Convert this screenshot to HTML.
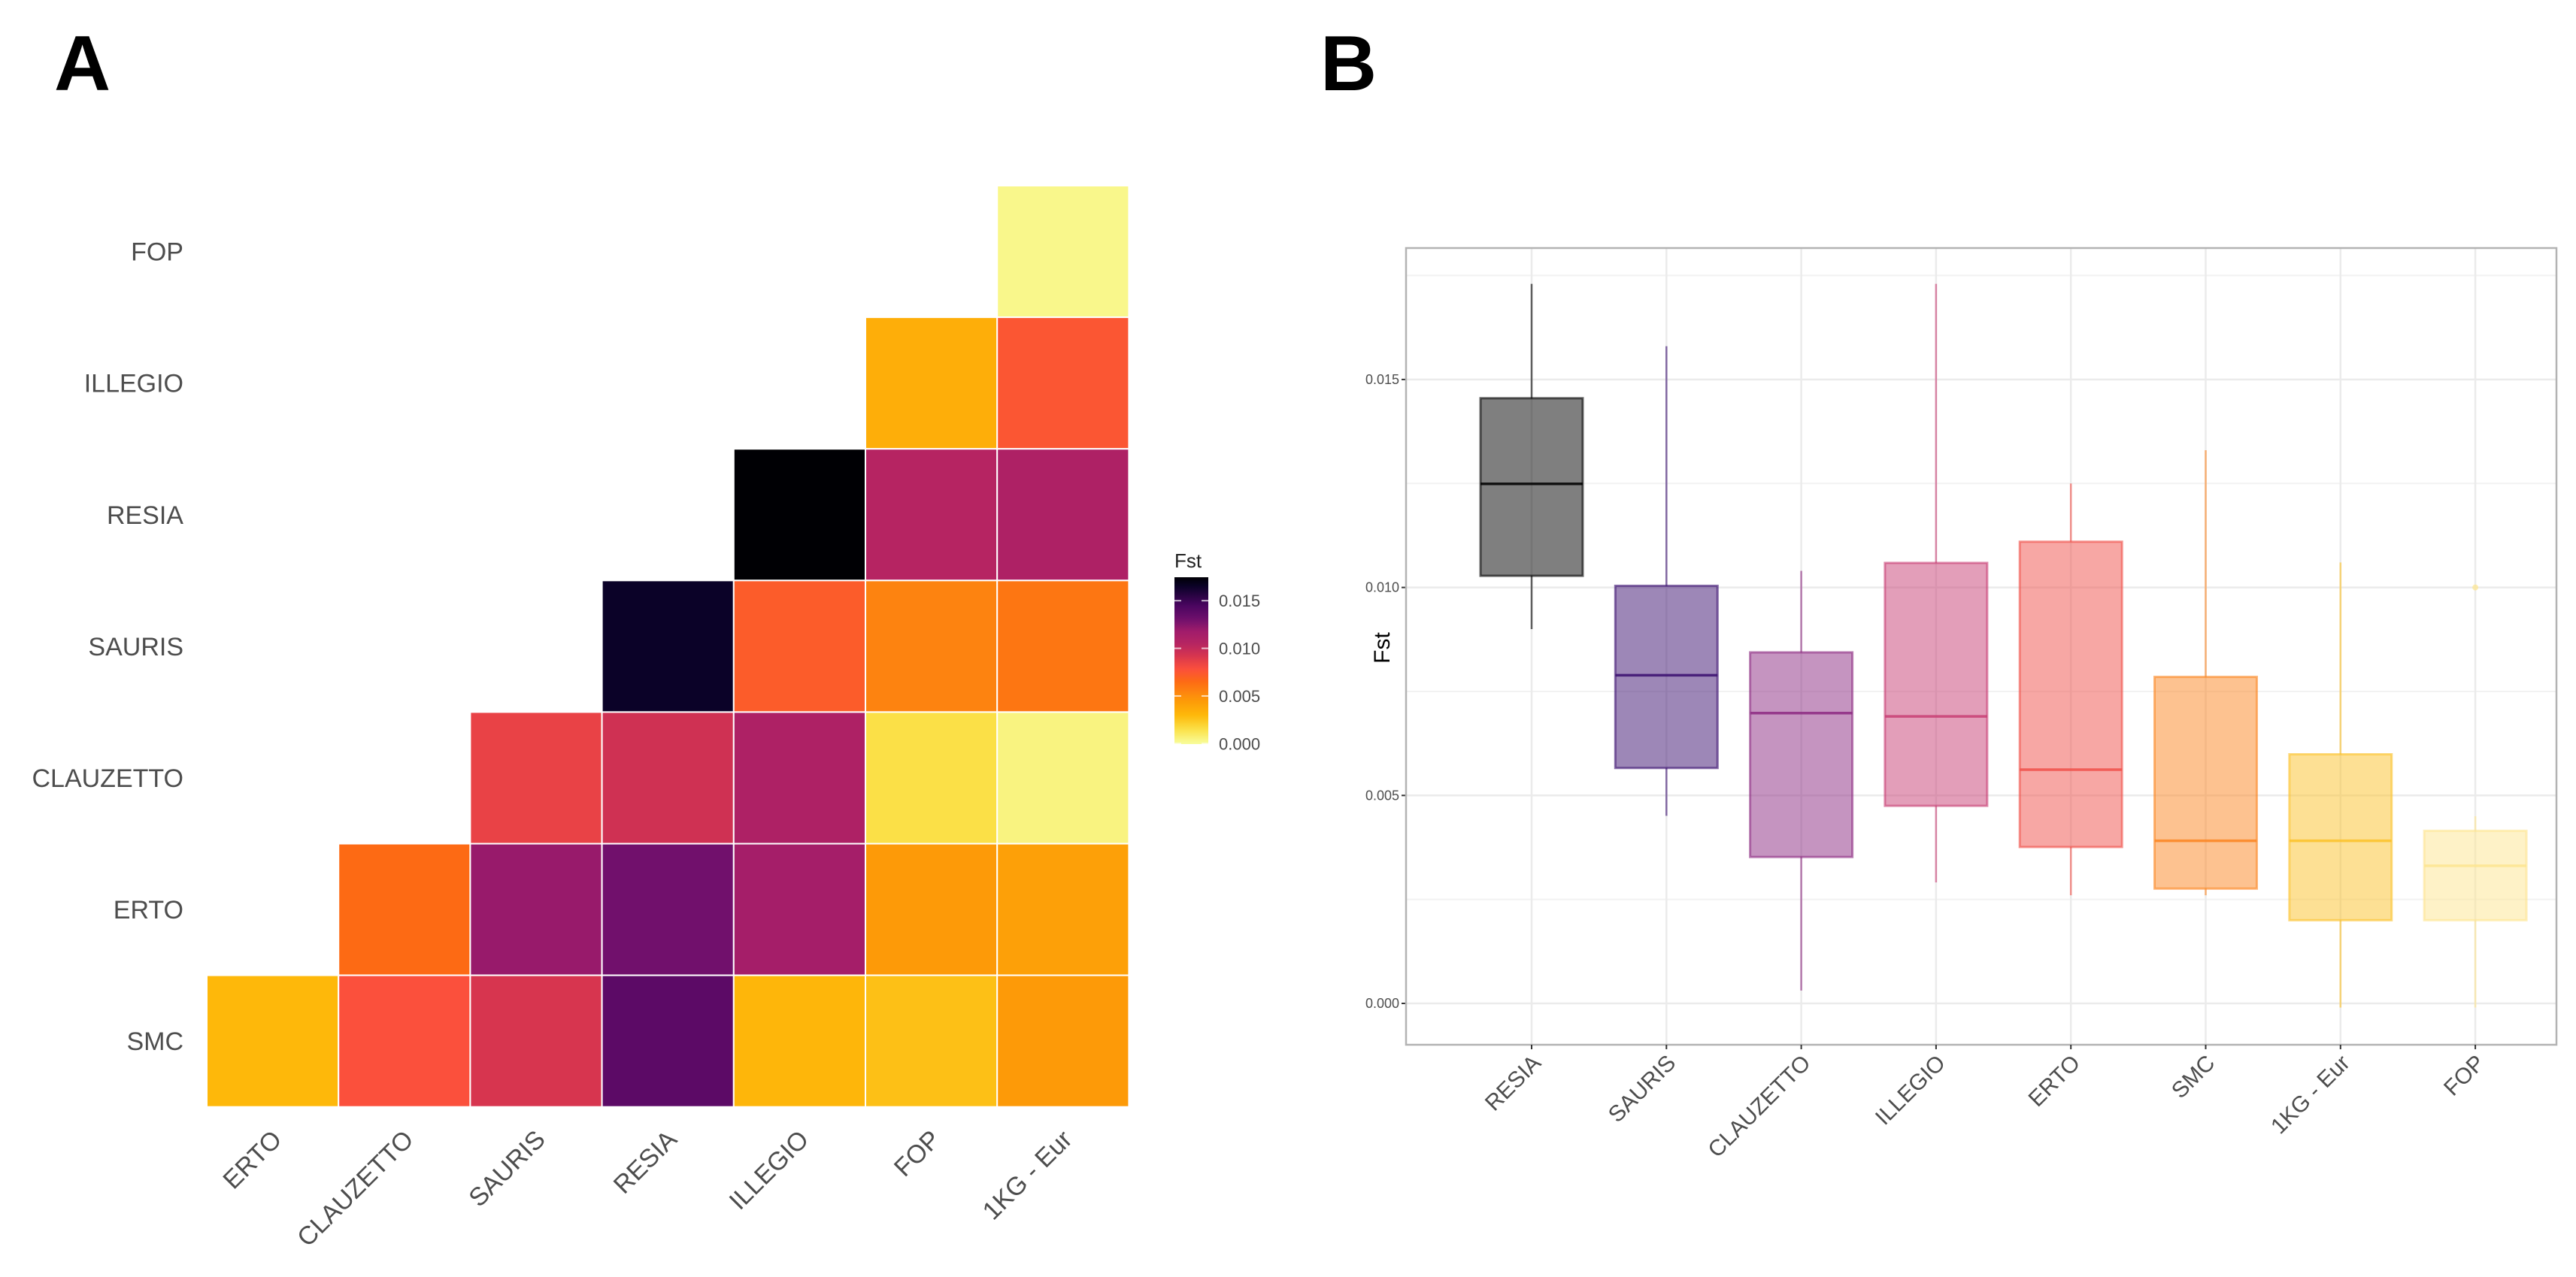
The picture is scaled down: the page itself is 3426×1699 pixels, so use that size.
<!DOCTYPE html>
<html><head><meta charset="utf-8"><style>
html,body{margin:0;padding:0;background:#fff;}
svg{display:block;font-family:"Liberation Sans",Arial,sans-serif;}
</style></head><body>
<svg id="fig" width="3426" height="1699" viewBox="0 0 3426 1699" xmlns="http://www.w3.org/2000/svg">
<rect x="0" y="0" width="3426" height="1699" fill="#fff"/>
<text x="72" y="120" font-size="104" font-weight="bold" fill="#000">A</text>
<text x="1756" y="120" font-size="104" font-weight="bold" fill="#000">B</text>
<g id="heat"></g>
<g id="legend"></g>
<g id="box"></g>
</svg>
<script>
// ---------- Panel A data ----------
const heatCols = ["ERTO","CLAUZETTO","SAURIS","RESIA","ILLEGIO","FOP","1KG - Eur"];
const heatRows = ["FOP","ILLEGIO","RESIA","SAURIS","CLAUZETTO","ERTO","SMC"];
const rowFOP = [0.0003];
const rowILLEGIO = [0.0035,0.0075];
const rowRESIA = [0.0175,0.0105,0.011];
const rowSAURIS = [0.0165,0.0072,0.0055,0.006];
const rowCLAUZETTO = [0.0085,0.0095,0.011,0.0015,0.0005];
const rowERTO = [0.0065,0.012,0.013,0.0115,0.0045,0.0042];
const rowSMC = [0.003,0.0078,0.0092,0.0138,0.0031,0.0027,0.0045];
const heatValues = [rowFOP,rowILLEGIO,rowRESIA,rowSAURIS,rowCLAUZETTO,rowERTO,rowSMC];
const legendTicks = [0,0.005,0.010,0.015];
const legendLabels = ["0.000","0.005","0.010","0.015"];

// ---------- Panel B data ----------
const boxCats = ["RESIA","SAURIS","CLAUZETTO","ILLEGIO","ERTO","SMC","1KG - Eur","FOP"];
const whiskerHigh = [0.0173,0.0158,0.0104,0.0173,0.0125,0.0133,0.0106,0.0045];
const q3Values = [0.01455,0.01004,0.00844,0.01059,0.0111,0.00785,0.00599,0.00415];
const medians = [0.01249,0.00789,0.00698,0.0069,0.00562,0.00391,0.00391,0.00331];
const q1Values = [0.01028,0.00566,0.00352,0.00475,0.00376,0.00276,0.002,0.002];
const whiskerLow = [0.009,0.00451,0.00031,0.00291,0.0026,0.0026,-0.0001,-0.0001];
const outlierCat = [7];
const outlierVal = [0.0100];
const yTicks = [0,0.005,0.010,0.015];
const yTickLabels = ["0.000","0.005","0.010","0.015"];
const boxColors = ["#000000","#3b0f70","#8c2981","#c83e73","#f0504a","#fb8522","#fcc22a","#fde58f"];

const NS="http://www.w3.org/2000/svg";
function mk(tag,attrs,parent){const e=document.createElementNS(NS,tag);for(const k in attrs)e.setAttribute(k,attrs[k]);parent.appendChild(e);return e;}

const stops=[[0,"#f8fd9c"],[0.0015,"#fbe047"],[0.003,"#feb80a"],[0.0045,"#fd9a08"],[0.0055,"#fd8310"],[0.0065,"#fd6a14"],[0.0078,"#fb503c"],[0.0092,"#d7354f"],[0.0105,"#b62462"],[0.0118,"#a01c6b"],[0.013,"#71106c"],[0.0145,"#4a0560"],[0.0165,"#0b0228"],[0.0175,"#000004"]];
function hx(c){return [parseInt(c.substr(1,2),16),parseInt(c.substr(3,2),16),parseInt(c.substr(5,2),16)];}
function colorOf(v){
  if(v<=stops[0][0])return stops[0][1];
  for(let i=1;i<stops.length;i++){if(v<=stops[i][0]){const a=hx(stops[i-1][1]),b=hx(stops[i][1]);const t=(v-stops[i-1][0])/(stops[i][0]-stops[i-1][0]);return "rgb("+a.map((x,j)=>Math.round(x+(b[j]-x)*t)).join(",")+")";}}
  return stops[stops.length-1][1];
}

// ---------- Panel A ----------
const heat=document.getElementById("heat");
const hx0=275,hy0=247,cw=175.2,ch=175.1;
const colX=i=>hx0+i*cw, rowY=i=>hy0+i*ch;
heatValues.forEach((row,ri)=>{
  const n=row.length, start=heatCols.length-n;
  row.forEach((v,k)=>{
    const ci=start+k;
    const r=mk("rect",{x:colX(ci),y:rowY(ri),width:cw,height:ch,fill:colorOf(v),stroke:"#fff","stroke-width":2},heat);
    
    
  });
});
heatRows.forEach((lab,ri)=>{
  const t=mk("text",{x:244,y:rowY(ri)+ch/2+12,"text-anchor":"end","font-size":34,fill:"#4d4d4d"},heat);
  t.textContent=lab;
  
  
});
heatCols.forEach((lab,ci)=>{
  const x=colX(ci)+cw/2+14,y=1518;
  const t=mk("text",{x:x,y:y,"text-anchor":"end","font-size":34,fill:"#4d4d4d",transform:"rotate(-45 "+x+" "+y+")"},heat);
  t.textContent=lab;
  
  
});

// legend
const lg=document.getElementById("legend");
const lx=1562,lw=45,lTop=768,lBot=990,lMax=0.01746,lMin=-0.00005;
const lyv=v=>lBot-(v-lMin)/(lMax-lMin)*(lBot-lTop);
const ft=mk("text",{x:1562,y:755,"font-size":26,fill:"#222"},lg);ft.textContent="Fst";


const defs=mk("defs",{},lg);
const grad=mk("linearGradient",{id:"lgGrad",x1:0,y1:1,x2:0,y2:0},defs);
for(let i=0;i<=40;i++){const v=lMin+(lMax-lMin)*i/40;mk("stop",{offset:(i/40),"stop-color":colorOf(v)},grad);}
const bar=mk("rect",{x:lx,y:lTop,width:lw,height:lBot-lTop,fill:"url(#lgGrad)"},lg);


legendTicks.forEach((v,i)=>{
  const y=lyv(v);
  mk("line",{x1:lx,x2:lx+9,y1:y,y2:y,stroke:"#fff","stroke-width":2,opacity:0.7},lg);
  mk("line",{x1:lx+lw-9,x2:lx+lw,y1:y,y2:y,stroke:"#fff","stroke-width":2,opacity:0.7},lg);
  const t=mk("text",{x:1621,y:y+8,"font-size":22,fill:"#4d4d4d"},lg);t.textContent=legendLabels[i];
  
  
});

// ---------- Panel B ----------
const bx=document.getElementById("box");
const pL=1870,pR=3400,pT=330,pB=1390;
const y0=1335,perUnit=276.7/0.005;
const yS=v=>y0-v*perUnit;
const xS=i=>2037+i*179.3;
mk("rect",{x:pL,y:pT,width:pR-pL,height:pB-pT,fill:"#fff"},bx);
for(let i=0;i<yTicks.length;i++){const v=yTicks[i]+0.0025;const y=yS(v);if(y>pT)mk("line",{x1:pL,x2:pR,y1:y,y2:y,stroke:"#f2f2f2","stroke-width":2},bx);}
yTicks.forEach((v,i)=>{
  const y=yS(v);
  mk("line",{x1:pL,x2:pR,y1:y,y2:y,stroke:"#ebebeb","stroke-width":2.5},bx);
  mk("line",{x1:pL-6,x2:pL,y1:y,y2:y,stroke:"#333","stroke-width":2},bx);
  const t=mk("text",{x:pL-9,y:y+6,"text-anchor":"end","font-size":18,fill:"#4d4d4d"},bx);t.textContent=yTickLabels[i];
  
  
});
boxCats.forEach((c,i)=>{mk("line",{x1:xS(i),x2:xS(i),y1:pT,y2:pB,stroke:"#ebebeb","stroke-width":2.5},bx);});
const bw=136;
boxCats.forEach((c,i)=>{
  const col=boxColors[i],x=xS(i);
  const g=mk("g",{},bx);
  
  
  mk("line",{x1:x,x2:x,y1:yS(whiskerHigh[i]),y2:yS(q3Values[i]),stroke:col,"stroke-width":2.5,"stroke-opacity":0.6},g);
  mk("line",{x1:x,x2:x,y1:yS(q1Values[i]),y2:yS(whiskerLow[i]),stroke:col,"stroke-width":2.5,"stroke-opacity":0.6},g);
  mk("rect",{x:x-bw/2,y:yS(q3Values[i]),width:bw,height:yS(q1Values[i])-yS(q3Values[i]),fill:col,"fill-opacity":0.5,stroke:col,"stroke-width":3,"stroke-opacity":0.6},g);
  mk("line",{x1:x-bw/2,x2:x+bw/2,y1:yS(medians[i]),y2:yS(medians[i]),stroke:col,"stroke-width":3.5,"stroke-opacity":0.85},g);
});
outlierCat.forEach((ci,k)=>{
  const p=mk("circle",{cx:xS(ci),cy:yS(outlierVal[k]),r:4,fill:boxColors[ci],"fill-opacity":0.7},bx);
  
  
});
mk("rect",{x:pL,y:pT,width:pR-pL,height:pB-pT,fill:"none",stroke:"#b3b3b3","stroke-width":2.5},bx);
boxCats.forEach((c,i)=>{
  const x=xS(i);
  mk("line",{x1:x,x2:x,y1:pB,y2:pB+6,stroke:"#333","stroke-width":2},bx);
  const ax=x+14,ay=1416;
  const t=mk("text",{x:ax,y:ay,"text-anchor":"end","font-size":30,fill:"#4d4d4d",transform:"rotate(-45 "+ax+" "+ay+")"},bx);t.textContent=c;
  
  
});
const yt=mk("text",{x:1848,y:862,"text-anchor":"middle","font-size":30,fill:"#000",transform:"rotate(-90 1848 862)"},bx);yt.textContent="Fst";


</script>
</body></html>
